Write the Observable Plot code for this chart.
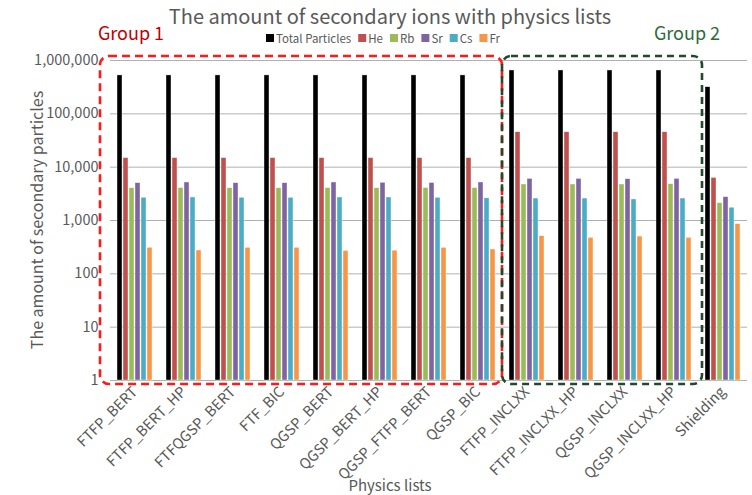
<!DOCTYPE html>
<html><head><meta charset="utf-8">
<script src="https://cdn.jsdelivr.net/npm/d3@7"></script>
<script src="https://cdn.jsdelivr.net/npm/@observablehq/plot@0.6"></script>
<style>
body{margin:0;background:#fff;}
#wrap{position:relative;width:752px;height:495px;overflow:hidden}
</style></head><body><div id="wrap"></div>
<script>
const categories = ["FTFP_BERT","FTFP_BERT_HP","FTFQGSP_BERT","FTF_BIC","QGSP_BERT","QGSP_BERT_HP","QGSP_FTFP_BERT","QGSP_BIC","FTFP_INCLXX","FTFP_INCLXX_HP","QGSP_INCLXX","QGSP_INCLXX_HP","Shielding"];
const seriesNames = ["Total Particles","He","Rb","Sr","Cs","Fr"];
const seriesColors = ["#000000","#c0504d","#9bbb59","#8064a2","#4bacc6","#f79646"];
const totalParticles = [525000,525000,525000,525000,525000,525000,525000,525000,650000,650000,650000,650000,316000];
const he = [14800,14800,14800,14800,14800,14800,14800,14800,45300,45300,45300,45300,6300];
const rb = [4030,4060,4030,4030,4060,4030,4060,4060,4730,4730,4730,4800,2110];
const sr = [5010,5160,5010,5010,5160,5100,5050,5160,6030,6030,5950,6030,2740];
const cs = [2670,2700,2670,2670,2700,2700,2670,2600,2580,2580,2480,2580,1740];
const fr = [308,274,308,308,268,272,307,286,508,473,500,473,855];
const yTicks = [1,10,100,1000,10000,100000,1000000];
const groupLabels = ["Group 1","Group 2"];
const group1 = categories.slice(0,8);
const group2 = categories.slice(8,12);
const titleText = "The amount of secondary ions with physics lists";
const yLabel = "The amount of secondary particles";
const xLabel = "Physics lists";

const values = [totalParticles, he, rb, sr, cs, fr];
const data = categories.flatMap((c,i)=> seriesNames.map((s,j)=>({category:c, series:s, value: values[j][i]})));
const FONT = "'Noto Sans CJK KR','Noto Sans',sans-serif";

const plot = Plot.plot({
  width:752, height:495, marginTop:60, marginBottom:115, marginLeft:110, marginRight:5,
  style:{fontFamily:FONT, fontSize:"14.5px", color:"#595959", background:"white"},
  fx:{domain:categories, padding:0, axis:"bottom", tickRotate:-45, tickSize:0, tickPadding:9, label:null},
  x:{domain:seriesNames, axis:null, paddingInner:0.15, paddingOuter:0.9},
  y:{type:"log", domain:[1,1e6], ticks:yTicks, tickFormat:d3.format(","), tickSize:0, tickPadding:12, label:null},
  color:{domain:seriesNames, range:seriesColors},
  marks:[
    Plot.ruleY(yTicks,{stroke:"#b0b0b0", strokeWidth:1}),
    Plot.barY(data,{fx:"category", x:"series", y1:1, y2:"value", fill:"series", stroke:"white", strokeWidth:0.4})
  ]
});
document.getElementById("wrap").appendChild(plot);

const svg = d3.select(plot);
const fx = plot.scale("fx"), y = plot.scale("y");
const bw = fx.bandwidth;
function box(cats, color, padL, padR, dash){
  const x0 = fx.apply(cats[0]) - padL, x1 = fx.apply(cats[cats.length-1]) + bw + padR;
  const y0 = y.apply(1e6) - 4, y1 = y.apply(1) + 4;
  svg.append("rect").attr("x",x0).attr("y",y0).attr("width",x1-x0).attr("height",y1-y0)
    .attr("rx",9).attr("ry",9).attr("fill","none").attr("stroke",color).attr("stroke-width",2.6)
    .attr("stroke-dasharray",dash);
}
box(group1, "#ff1a1a", 10, 0, "8,5");
box(group2, "#1f4a2c", 0, 4, "7,5");

const t = (x,yy,txt,size,fill,anchor="middle") => svg.append("text").attr("x",x).attr("y",yy)
  .attr("text-anchor",anchor).attr("dominant-baseline","central").attr("font-family",FONT)
  .attr("font-size",size).attr("fill",fill).text(txt);
t(390,15,titleText,20,"#595959");
t(131,32,groupLabels[0],18,"#c00000");
t(687,32,groupLabels[1],18,"#2e6b3a");
t(390,484,xLabel,15,"#595959");
svg.append("text").attr("transform","translate(36,220) rotate(-90)").attr("text-anchor","middle")
  .attr("dominant-baseline","central").attr("font-family",FONT).attr("font-size",16).attr("fill","#595959").text(yLabel);

// legend
const lg = svg.append("g");
let cx = 0;
seriesNames.forEach((s,i)=>{
  lg.append("rect").attr("x",cx).attr("y",-4).attr("width",8).attr("height",8).attr("fill",seriesColors[i]);
  const tx = lg.append("text").attr("x",cx+10).attr("y",0).attr("dominant-baseline","central")
    .attr("text-anchor","start")
    .attr("font-family",FONT).attr("font-size",11.5).attr("fill","#595959").text(s);
  cx += 10 + tx.node().getComputedTextLength() + 7;
});
const lw = cx - 7;
lg.attr("transform",`translate(${383 - lw/2},38)`);
</script></body></html>
